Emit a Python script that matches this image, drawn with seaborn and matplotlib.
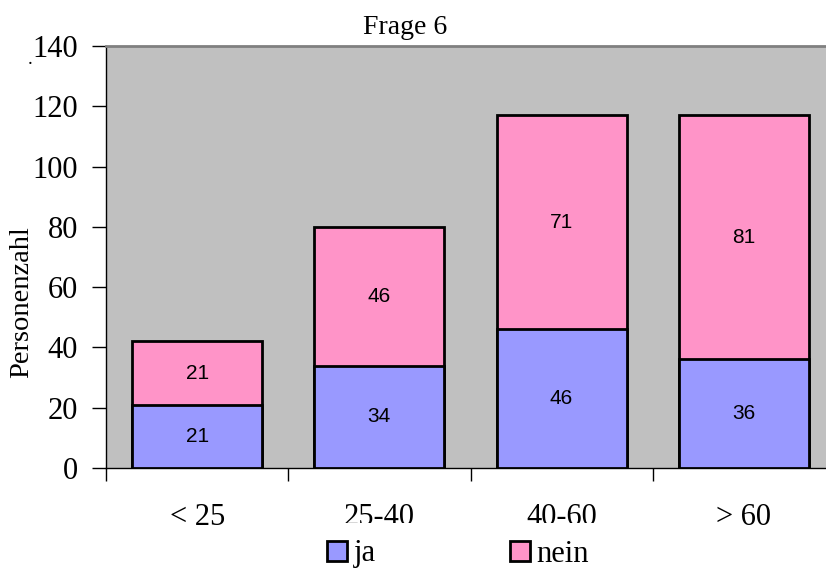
import matplotlib
matplotlib.use("Agg")
import matplotlib.pyplot as plt
from matplotlib.patches import Patch
from matplotlib.ticker import FixedLocator, NullFormatter
import pandas as pd
import seaborn as sns

# Survey answers per age group
categories = ["< 25", "25-40", "40-60", "> 60"]
ja = [21, 34, 46, 36]
nein = [21, 46, 71, 81]
yticks = [0, 20, 40, 60, 80, 100, 120, 140]

df = pd.DataFrame({"Alter": categories, "ja": ja, "nein": nein})
df["gesamt"] = df["ja"] + df["nein"]

sns.set_theme(style="ticks", rc={
    "axes.edgecolor": "black", "text.color": "black", "axes.labelcolor": "black",
    "xtick.color": "black", "ytick.color": "black",
})
plt.rcParams["font.family"] = ["Liberation Serif", "DejaVu Serif"]

col_ja = "#9999FF"
col_nein = "#FF94C8"

fig = plt.figure(figsize=(8.26, 5.71), dpi=100)
# the plot area runs off the right edge of the figure
ax = fig.add_axes([106 / 826, 1 - 468 / 571, 729 / 826, 422 / 571])
ax.set_facecolor("#C0C0C0")

# stacked bars: full height in pink, "ja" part drawn over it in blue
sns.barplot(data=df, x="Alter", y="gesamt", color=col_nein, width=0.713,
            edgecolor="black", linewidth=2, saturation=1, ax=ax, zorder=2)
sns.barplot(data=df, x="Alter", y="ja", color=col_ja, width=0.713,
            edgecolor="black", linewidth=2, saturation=1, ax=ax, zorder=3)

for i, (a, b) in enumerate(zip(ja, nein)):
    ax.text(i, a / 2, str(a), ha="center", va="center", fontsize=15,
            family="Liberation Sans", zorder=5)
    ax.text(i, a + b / 2, str(b), ha="center", va="center", fontsize=15,
            family="Liberation Sans", zorder=5)

ax.set_xlim(-0.5, len(categories) - 0.5)
ax.set_ylim(0, 140)
ax.set_yticks(yticks)
ax.set_yticklabels([str(v) for v in yticks], fontsize=22)

# category boundaries carry the tick marks, names sit between them
ax.xaxis.set_major_locator(FixedLocator([i - 0.5 for i in range(len(categories) + 1)]))
ax.xaxis.set_major_formatter(NullFormatter())
ax.xaxis.set_minor_locator(FixedLocator(list(range(len(categories)))))
ax.set_xticklabels(categories, minor=True, fontsize=22)
ax.tick_params(axis="x", which="major", bottom=True, direction="out",
               length=9, width=1, color="black")
ax.tick_params(axis="x", which="minor", bottom=True, length=0, pad=25)
ax.tick_params(axis="y", left=True, direction="out", length=10, width=1,
               color="black", pad=10)
ax.set_xlabel("")
ax.set_ylabel("")

for side in ["left", "bottom"]:
    ax.spines[side].set_visible(True)
    ax.spines[side].set_color("black")
    ax.spines[side].set_linewidth(1)
ax.spines["top"].set_visible(True)
ax.spines["top"].set_color("#808080")
ax.spines["top"].set_linewidth(2)
ax.spines["right"].set_visible(False)

fig.text(405 / 826, 1 - 27 / 571, "Frage 6", ha="center", va="center", fontsize=20)
fig.text(22 / 826, 1 - 302 / 571, "Personenzahl", ha="center", va="center",
         rotation=90, fontsize=20.5)
fig.text(30 / 826, 1 - 60 / 571, ".", ha="center", va="center", fontsize=14)

# the legend box is opaque and sits over the lower edge of the middle labels
handles = [Patch(facecolor=col_ja, edgecolor="black", linewidth=2),
           Patch(facecolor=col_nein, edgecolor="black", linewidth=2)]
leg = fig.legend(handles, ["ja", "nein"], loc="center", ncol=2,
                 bbox_to_anchor=(458 / 826, 1 - 554 / 571), fontsize=22,
                 frameon=True, framealpha=1, facecolor="white", edgecolor="none",
                 handlelength=0.65, handleheight=0.65, handletextpad=0.2,
                 columnspacing=4.4, borderpad=0.55, fancybox=False)
leg.set_zorder(10)

fig.savefig("out.png", dpi=100, facecolor="white")
